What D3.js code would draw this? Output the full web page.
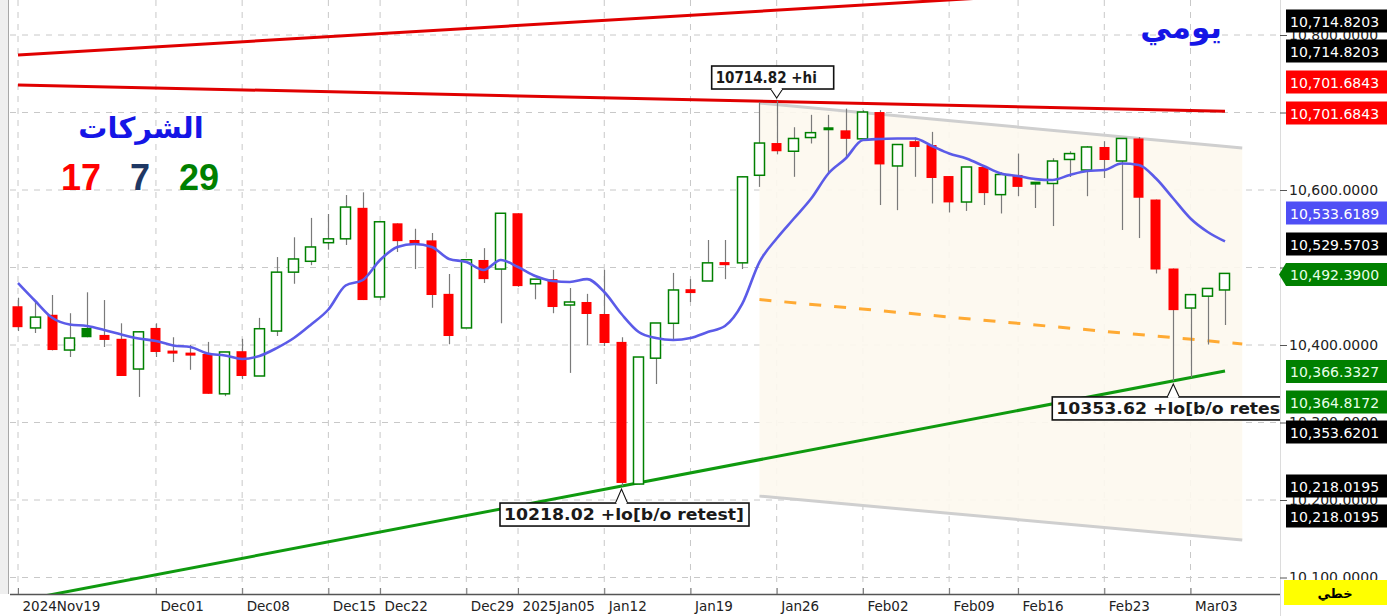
<!DOCTYPE html>
<html><head><meta charset="utf-8">
<script src="https://cdn.jsdelivr.net/npm/d3@7"></script>
<style>body{margin:0;background:#fff;overflow:hidden} svg{display:block}</style>
</head><body>
<svg id="c" width="1387" height="616"></svg>
<script>
// ---------------- DATA ----------------
const tickIndex  = [0, 8, 13, 18, 21, 26, 29, 34, 39, 44, 49, 54, 58, 63, 68];
const tickLabels = ["2024Nov19","Dec01","Dec08","Dec15","Dec22","Dec29","2025Jan05","Jan12","Jan19","Jan26","Feb02","Feb09","Feb16","Feb23","Mar03"];

const openV = [10450,10422,10439,10393.5,10422,10413,10408,10369,10422,10392,
  10389.5,10388.4,10337,10392,10360,10418,10494,10508,10532,10537,
  10577,10462,10557,10535.5,10535,10466,10422,10509.7,10498,10570,
  10479,10485,10451.6,10455.5,10440,10404,10220.6,10383,10428,10472,
  10482.6,10507,10506,10619,10660.6,10650,10667.7,10680.6,10677,10666,
  10700.6,10631,10663,10658,10618,10584.5,10629.7,10594,10619.4,10610,
  10608.4,10639.4,10625.8,10655.5,10637.4,10666.5,10587.7,10498.7,10447.7,10463,
  10471];
const highV = [10461,10455.5,10464.5,10441,10468,10458,10428,10418,10428,10410,
  10400,10404,10391,10408,10435,10513.5,10539,10564,10569,10593.5,
  10597,10559,10557,10550,10544.5,10491.6,10510,10525,10570,10570,
  10485,10497,10473.5,10466,10497,10410,10384.5,10428.4,10493,10485,
  10535.5,10535.5,10618,10713.5,10714.82,10681,10697,10697,10705,10703,
  10703,10658.7,10668,10675,10618,10629.7,10629.7,10623,10647,10610,
  10641,10650,10656.8,10663,10666.5,10668.4,10587.7,10498.7,10465,10473.5,
  10492.39];
const lowV = [10418,10415.5,10393,10384.5,10410,10397.4,10360,10333,10384.5,10378,
  10368,10337,10334,10356,10360,10411.6,10479,10503,10523,10529,
  10458,10458,10520,10498,10448,10401,10422,10480,10428,10475,
  10459,10441,10364,10400,10398.7,10218.02,10220,10349.7,10407.7,10455.5,
  10482.6,10485,10498,10604,10646,10617,10660,10621,10640.6,10666,
  10580.6,10574,10617,10582.6,10571,10573,10580.6,10569.7,10592,10576.8,
  10553.5,10616.8,10592,10615.5,10548.4,10538,10492.3,10353.62,10358,10400.6,
  10425.8];
const closeV = [10423,10436,10393.5,10409,10410,10406.5,10360,10417,10391,10389.7,
  10387,10337,10391,10360,10421,10494,10511,10526.5,10537,10578,
  10458,10559,10534,10530,10464.5,10411.6,10510,10485,10570,10476,
  10485,10449,10455.5,10440,10402.6,10222,10384.5,10428.4,10471,10467,
  10506,10503,10617,10660.6,10650,10666.5,10674,10677.4,10666,10700.6,
  10633,10658.7,10655.5,10615.5,10584,10629.7,10596,10620,10604,10607.7,
  10637.4,10647,10655.5,10638.7,10666.5,10590,10497.4,10445,10465,10473,
  10492.39];
const maV = [10480,10456.8,10434.8,10426.5,10424.5,10419.4,10413.5,10408.4,10405.2,10399.4,
  10397.4,10389,10386.5,10382,10385.8,10396,10409,10426.5,10445.8,10476.8,
  10483.9,10509.7,10526.5,10530.3,10526.5,10511,10507,10496.8,10509.7,10500.6,
  10489,10482.6,10481.3,10485,10468.4,10440,10416.8,10409,10406.5,10409,
  10416.8,10424.5,10453,10507,10537.4,10563.2,10589,10621.3,10640.6,10664.5,
  10665.8,10666.5,10666.5,10656.8,10647,10640.6,10631,10621.3,10618,10614,
  10612.9,10619.4,10624.5,10625.8,10634.2,10632.3,10614.8,10589,10563.2,10545.8,
  10533.62];

const upperRedLine   = [[0, 10774.2], [70, 10866.3]];
const resistanceLine = [[0, 10735.5], [70, 10701.68]];
const supportLine    = [[0, 10069.7], [70, 10366.33]];
const channelTop     = [[43, 10712.3], [71, 10654.2]];
const channelMid     = [[43, 10458.6], [71, 10401.3]];
const channelBottom  = [[43, 10205.0], [71, 10148.4]];

const yTicks = [10100,10200,10300,10400,10500,10600,10700,10800];
const yTicksHiddenLabel = [10500,10700];
const badgeValues = [10714.8203,10714.8203,10701.6843,10701.6843,10533.6189,10529.5703,10492.39,10366.3327,10364.8172,10353.6201,10218.0195,10218.0195];
const badgeKinds  = ["black","black","red","red","blue","black","last","green","green","black","black","black"];

const hiNote  = {i:44, v:10714.82, text:"10714.82 +hi"};
const loNote  = {i:35, v:10218.02, text:"10218.02 +lo[b/o retest]"};
const lo2Note = {i:67, v:10353.62, text:"10353.62 +lo[b/o retest]"};

const titleText = "يومي";
const groupText = "الشركات";
const counts = [{t:"17", c:"#ff0000"},{t:"7", c:"#1f3864"},{t:"29", c:"#008000"}];

// ---------------- DRAW ----------------
const svg = d3.select("#c");
const P = {l:10, r:1280, t:0, b:594};
const x = d3.scaleLinear().domain([0,70]).range([18,1225]);
const y = d3.scaleLinear().domain([10100,10600]).range([577.5,190]);
const step = x(1)-x(0);
const bw = step*0.66;

svg.append("rect").attr("width",1387).attr("height",616).attr("fill","#fff");
svg.append("rect").attr("x",0).attr("y",0).attr("width",8).attr("height",P.b).attr("fill","#efefef");
svg.append("line").attr("x1",8.5).attr("x2",8.5).attr("y1",0).attr("y2",P.b).attr("stroke","#a8a8a8");

const defs = svg.append("defs");
defs.append("clipPath").attr("id","plot").append("rect")
  .attr("x",P.l).attr("y",P.t).attr("width",P.r-P.l).attr("height",P.b-P.t);

const g = svg.append("g").attr("clip-path","url(#plot)");

// grid
g.selectAll(".hg").data(yTicks).join("line")
  .attr("x1",P.l).attr("x2",P.r).attr("y1",d=>y(d)).attr("y2",d=>y(d))
  .attr("stroke","#c8c8c8").attr("stroke-dasharray","6,6");
g.selectAll(".vg").data(tickIndex).join("line")
  .attr("x1",d=>x(d)).attr("x2",d=>x(d)).attr("y1",P.t).attr("y2",P.b)
  .attr("stroke","#c8c8c8").attr("stroke-dasharray","6,6");

// channel fill
const chPoly = channelTop.concat(channelBottom.slice().reverse());
g.append("path").attr("d", "M"+chPoly.map(p=>[x(p[0]),y(p[1])].join(",")).join("L")+"Z")
  .attr("fill","#fdf8ee").attr("opacity",0.9);

const line2 = d3.line().x(p=>x(p[0])).y(p=>y(p[1]));
function seg(d, color, w, dash){
  const p = g.append("path").attr("d", line2(d)).attr("fill","none")
    .attr("stroke",color).attr("stroke-width",w).attr("stroke-linecap","butt");
  if(dash) p.attr("stroke-dasharray",dash);
  return p;
}
seg(channelTop, "#cfcfcf", 3);
seg(channelBottom, "#cfcfcf", 3);
seg(channelMid, "#ffaa33", 3, "12,13");
seg(upperRedLine, "#e00000", 3);
seg(resistanceLine, "#e00000", 3);
seg(supportLine, "#0f9a0f", 3);

// candles
const candles = d3.range(openV.length).map(i=>({
  i, o:openV[i], h:highV[i], l:lowV[i], c:closeV[i],
  up: i===0 ? closeV[i]>=openV[i] : closeV[i]>=closeV[i-1],
  filled: closeV[i]<openV[i]
}));
const cg = g.append("g");
cg.selectAll(".wick").data(candles).join("line")
  .attr("x1",d=>Math.round(x(d.i))+0.5).attr("x2",d=>Math.round(x(d.i))+0.5)
  .attr("y1",d=>y(d.h)).attr("y2",d=>y(d.l))
  .attr("stroke","#7a7a7a").attr("stroke-width",1.2);
cg.selectAll(".body").data(candles).join("rect")
  .attr("x",d=>Math.round(x(d.i)-bw/2)+0.5)
  .attr("width",Math.round(bw)-1)
  .attr("y",d=>{const t=y(Math.max(d.o,d.c)), b=y(Math.min(d.o,d.c)); return b-t<3 ? (t+b)/2-1.5 : t;})
  .attr("height",d=>Math.max(3, y(Math.min(d.o,d.c))-y(Math.max(d.o,d.c))))
  .attr("fill",d=> d.filled ? (d.up ? "#008000" : "#ff0000") : "#ffffff")
  .attr("stroke",d=> d.up ? "#008000" : "#ff0000")
  .attr("stroke-width",d=> d.filled ? 0 : 1.5);

// moving average
g.append("path").datum(maV)
  .attr("d", d3.line().x((d,i)=>x(i)).y(d=>y(d)).curve(d3.curveMonotoneX))
  .attr("fill","none").attr("stroke","#5b5be8").attr("stroke-width",2.6);

// callouts
function callout(note, boxW, dx, above, gap){
  const cx = x(note.i), py = y(note.v);
  const bh = 23;
  const bx = cx - boxW/2 + dx;
  const by = above ? py - gap - bh : py + gap;
  const cg2 = g.append("g");
  cg2.append("rect").attr("x",bx).attr("y",by).attr("width",boxW).attr("height",bh)
    .attr("fill","#fff").attr("stroke","#111").attr("stroke-width",1.6);
  const ny = above ? by+bh : by;
  const tip = above ? py-3 : py+3;
  cg2.append("path").attr("d",`M${cx-6},${ny} L${cx},${tip} L${cx+6},${ny}`)
    .attr("fill","#fff").attr("stroke","#111").attr("stroke-width",1.1);
  cg2.append("line").attr("x1",cx-5).attr("x2",cx+5).attr("y1",ny).attr("y2",ny)
    .attr("stroke","#fff").attr("stroke-width",2);
  cg2.append("text").attr("x",bx+4).attr("y",by+17)
    .attr("font-family","'DejaVu Sans Condensed','DejaVu Sans',sans-serif")
    .attr("font-weight","bold").attr("font-size",15).attr("fill","#1a1a1a")
    .text(note.text);
  return cg2;
}
callout(hiNote, 122, -4, true, 12);
const lo1 = callout(loNote, 249, 3, false, 17);
lo1.select("text").attr("textLength",240).attr("lengthAdjust","spacingAndGlyphs");
const lo2 = callout(lo2Note, 250, 4, false, 16);
lo2.select("text").attr("textLength",240).attr("lengthAdjust","spacingAndGlyphs");

// x axis
svg.append("line").attr("x1",P.l).attr("x2",P.r).attr("y1",P.b+0.5).attr("y2",P.b+0.5)
  .attr("stroke","#555").attr("stroke-width",1.5);
const xAxis = d3.axisBottom(x).tickValues(tickIndex).tickFormat((d,i)=>tickLabels[i])
  .tickSizeInner(-6).tickSizeOuter(0).tickPadding(0);
const xa = svg.append("g").attr("transform",`translate(0,${P.b})`).call(xAxis);
xa.select(".domain").remove();
xa.selectAll(".tick line").attr("stroke","#777");
xa.selectAll(".tick text").attr("text-anchor","start").attr("dx",4).attr("dy",0).attr("y",17)
  .attr("font-family","'DejaVu Sans',sans-serif").attr("font-size",13.5).attr("fill","#222");

// right axis
svg.append("line").attr("x1",P.r+0.5).attr("x2",P.r+0.5).attr("y1",0).attr("y2",616).attr("stroke","#dcdcdc");
const yAxis = d3.axisRight(y).tickValues(yTicks)
  .tickFormat(d => yTicksHiddenLabel.includes(d) ? "" : d3.format(",.4f")(d)).tickSize(7).tickPadding(2);
const ya = svg.append("g").attr("transform",`translate(${P.r},0)`).call(yAxis);
ya.select(".domain").remove();
ya.selectAll(".tick line").attr("stroke","#555");
ya.selectAll(".tick text").attr("font-family","'DejaVu Sans',sans-serif").attr("font-size",14).attr("fill","#222");

// badges (layout slots on the axis)
const badgeSlots = [21,51,82,113,213,244,274.5,371.5,402,432,486,516];
const kindColor = {black:"#000000", red:"#ff0000", blue:"#4f4ff5", green:"#008000", last:"#008000"};
const bg = svg.append("g");
badgeValues.forEach((v,k)=>{
  const cy = badgeSlots[k], kind = badgeKinds[k];
  const top = cy-11.5, bot = cy+11.5;
  if(kind==="last"){
    bg.append("path").attr("d",`M1279,${cy} L1286,${top} L1387,${top} L1387,${bot} L1286,${bot} Z`).attr("fill",kindColor[kind]);
  } else {
    bg.append("rect").attr("x",1286).attr("y",top).attr("width",101).attr("height",23).attr("fill",kindColor[kind]);
  }
  bg.append("text").attr("x",1290).attr("y",cy+5.5)
    .attr("font-family","'DejaVu Sans',sans-serif").attr("font-size",14)
    .attr("fill", kind==="green"||kind==="last" ? "#e8ffe8" : "#ffffff")
    .text(d3.format(",.4f")(v));
});
bg.append("rect").attr("x",1284).attr("y",580).attr("width",103).attr("height",25).attr("fill","#ffff00");
bg.append("text").attr("x",1335).attr("y",598).attr("text-anchor","middle")
  .attr("font-family","'DejaVu Sans',sans-serif").attr("font-weight","bold").attr("font-size",13).attr("fill","#000").text("خطي");

// texts
svg.append("text").attr("x",1222).attr("y",38).attr("text-anchor","end")
  .attr("font-family","'DejaVu Sans',sans-serif").attr("font-weight","bold").attr("font-size",31)
  .attr("fill","#1515e6").text(titleText);
svg.append("text").attr("x",141).attr("y",138).attr("text-anchor","middle")
  .attr("font-family","'DejaVu Sans',sans-serif").attr("font-weight","bold").attr("font-size",29)
  .attr("fill","#1515e6").text(groupText);
const cx0 = [81, 140, 199];
counts.forEach((d,k)=>{
  svg.append("text").attr("x",cx0[k]).attr("y",190).attr("text-anchor","middle")
    .attr("font-family","'Liberation Sans',Arial,sans-serif").attr("font-weight","bold").attr("font-size",36)
    .attr("fill",d.c).text(d.t);
});
</script>
</body></html>
